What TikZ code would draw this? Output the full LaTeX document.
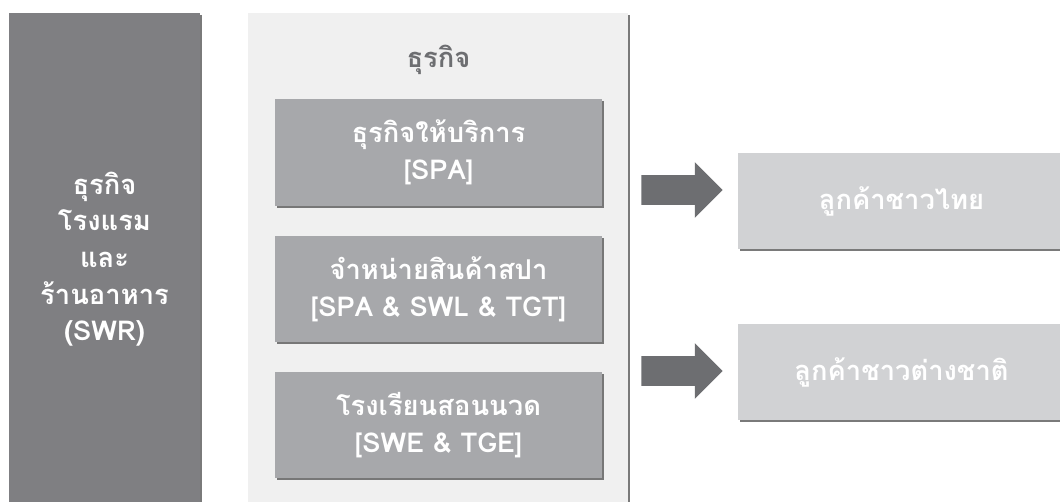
\documentclass[tikz,border=0pt]{standalone}
\usepackage{fontspec}
\setmainfont[Script=Thai]{Loma}
\usetikzlibrary{shapes.arrows,shadows}
\definecolor{bargrey}{HTML}{7F7F82}
\definecolor{panelgrey}{HTML}{F0F0F0}
\definecolor{boxgrey}{HTML}{A7A8AB}
\definecolor{arrowgrey}{HTML}{6D6E71}
\definecolor{custgrey}{HTML}{D1D2D4}
\begin{document}
\begin{tikzpicture}[x=0.75pt,y=-0.75pt,inner sep=0pt]
    \tikzset{
        thaitext/.style={text=white,align=center,font=\bfseries\fontsize{20.5}{27.5}\selectfont},
        shade box/.style={drop shadow={shadow xshift=1.5pt,shadow yshift=-1.5pt,opacity=.8,fill=black!65}},
        bizbox/.style={thaitext,shade box,fill=boxgrey,minimum width=245pt,minimum height=80pt},
        custbox/.style={thaitext,shade box,fill=custgrey,minimum width=245pt,minimum height=72pt},
        flowarrow/.style={single arrow,fill=arrowgrey,inner xsep=0pt,inner ysep=10.9pt,minimum height=61pt,
            single arrow head extend=9.75pt,single arrow head indent=0pt,anchor=tail}
    }
    \useasboundingbox (0,0) rectangle (1060,501);
    \def \boxx{438.5}
    % left bar
    \node[shade box,fill=bargrey,minimum width=143pt,minimum height=369pt] (hotel) at (104.5,259) {};
    \node[thaitext] (hoteltext) at (104.5,259) {ธุรกิจ\\โรงแรม\\และ\\ร้านอาหาร\\(SWR)};
    % middle panel
    \node[shade box,fill=panelgrey,minimum width=285pt,minimum height=369pt] (panel) at (438,259) {};
    \node[thaitext,text=arrowgrey] (paneltitle) at (\boxx,60) {ธุรกิจ};
    \node[bizbox] (service) at (\boxx,152.5) {ธุรกิจให้บริการ\\{[SPA]}};
    \node[bizbox] (retail) at (\boxx,289) {จำหน่ายสินค้าสปา\\{[SPA \& SWL \& TGT]}};
    \node[bizbox] (school) at (\boxx,425) {โรงเรียนสอนนวด\\{[SWE \& TGE]}};
    % arrows
    \node[flowarrow] (arrowthai) at (641,190) {};
    \node[flowarrow] (arrowforeign) at (641,371) {};
    % customers
    \node[custbox] (thaicust) at (901.5,201) {ลูกค้าชาวไทย};
    \node[custbox] (foreigncust) at (901.5,372) {ลูกค้าชาวต่างชาติ};
\end{tikzpicture}
\end{document}
